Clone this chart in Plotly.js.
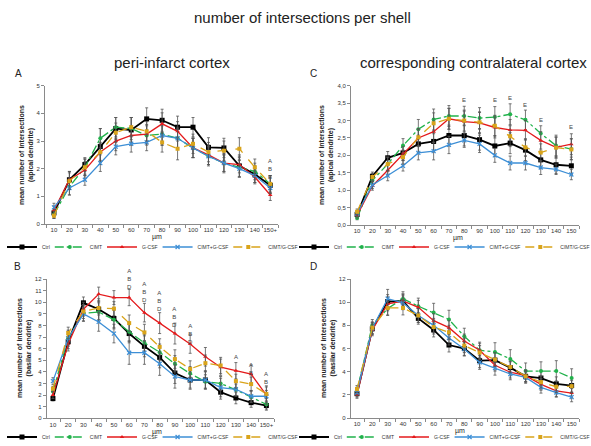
<!DOCTYPE html>
<html><head><meta charset="utf-8">
<script src="https://cdn.plot.ly/plotly-3.0.1.min.js"></script>
<style>html,body{margin:0;padding:0;background:#fff}#c{width:591px;height:446px}</style>
</head><body><div id="c"></div>
<script>
const seriesNames = ['Ctrl','CIMT','G-CSF','CIMT+G-CSF','CIMT/G-CSF'];
const catsPlus = ['10','20','30','40','50','60','70','80','90','100','110','120','130','140','150+'];
const cats = ['10','20','30','40','50','60','70','80','90','100','110','120','130','140','150'];

// Panel A: peri-infarct, apical
const A_ctrl = [0.4,1.6,2.15,2.8,3.45,3.4,3.8,3.75,3.5,3.5,2.77,2.75,2.1,1.8,1.4];
const A_cimt = [0.35,1.35,2.05,3.1,3.5,3.45,3.2,3.25,3.1,2.75,2.45,2.2,2.05,1.9,1.45];
const A_gcsf = [0.5,1.6,1.95,2.6,3.0,3.2,3.25,3.62,3.35,2.75,2.5,2.2,2.15,1.7,1.05];
const A_comb = [0.6,1.3,1.6,2.2,2.8,2.9,2.95,3.2,3.1,2.75,2.45,2.2,2.0,1.75,1.3];
const A_seq  = [0.3,1.55,2.05,2.6,3.3,3.5,3.35,2.95,2.72,2.9,2.6,2.65,2.72,2.05,1.45];
const A_ctrl_e = [0.15,0.3,0.25,0.65,0.4,0.45,0.4,0.4,0.4,0.35,0.35,0.35,0.4,0.3,0.3];
const A_cimt_e = [0.15,0.3,0.3,0.35,0.35,0.4,0.35,0.4,0.4,0.35,0.35,0.35,0.35,0.3,0.3];
const A_gcsf_e = [0.15,0.3,0.3,0.35,0.35,0.35,0.35,0.4,0.35,0.35,0.35,0.3,0.3,0.25,0.2];
const A_comb_e = [0.15,0.25,0.2,0.3,0.3,0.3,0.3,0.35,0.35,0.35,0.3,0.3,0.3,0.25,0.2];
const A_seq_e  = [0.1,0.3,0.3,0.3,0.35,0.35,0.35,0.35,0.4,0.35,0.35,0.35,0.4,0.3,0.3];

// Panel C: contralateral, apical
const C_ctrl = [0.3,1.4,1.93,2.07,2.33,2.4,2.57,2.57,2.45,2.27,2.35,2.15,1.87,1.73,1.7];
const C_cimt = [0.2,1.28,1.75,2.28,2.75,3.03,3.13,3.13,3.07,3.1,3.18,3.02,2.63,2.28,2.18];
const C_gcsf = [0.28,1.12,1.57,2.05,2.5,2.68,3.05,2.97,2.93,2.8,2.73,2.72,2.43,2.23,2.32];
const C_comb = [0.33,1.15,1.42,1.7,2.07,2.12,2.3,2.43,2.33,2.0,1.78,1.78,1.65,1.6,1.45];
const C_seq  = [0.38,1.38,1.75,1.95,2.52,2.92,3.05,3.0,2.95,2.85,2.55,2.23,2.08,2.22,2.17];
const C_ctrl_e = [0.08,0.12,0.18,0.2,0.25,0.3,0.3,0.3,0.3,0.3,0.3,0.3,0.25,0.25,0.25];
const C_cimt_e = [0.05,0.12,0.2,0.2,0.28,0.3,0.3,0.28,0.3,0.3,0.3,0.28,0.22,0.3,0.3];
const C_gcsf_e = [0.08,0.12,0.15,0.2,0.25,0.3,0.3,0.3,0.3,0.3,0.3,0.28,0.25,0.3,0.3];
const C_comb_e = [0.08,0.1,0.15,0.15,0.2,0.25,0.25,0.2,0.25,0.2,0.2,0.2,0.2,0.15,0.15];
const C_seq_e  = [0.08,0.1,0.2,0.2,0.25,0.3,0.3,0.3,0.3,0.3,0.3,0.25,0.25,0.3,0.3];

// Panel B: peri-infarct, basilar
const B_ctrl = [1.7,6.6,9.95,9.4,8.6,7.3,6.2,5.25,3.9,3.3,3.3,2.25,1.75,1.35,1.1];
const B_cimt = [2.3,6.9,9.05,9.15,8.5,7.45,6.5,5.7,4.7,3.85,3.15,3.0,2.45,1.85,1.2];
const B_gcsf = [2.0,6.4,9.4,10.7,10.4,10.4,9.1,8.2,7.3,6.4,5.3,4.4,4.1,3.8,2.0];
const B_comb = [3.2,6.9,9.0,8.3,7.3,5.65,5.65,4.7,3.6,3.3,3.3,2.65,2.5,1.9,1.9];
const B_seq  = [2.55,7.35,9.2,9.5,9.45,8.2,7.4,6.15,5.1,4.25,4.75,4.55,3.2,2.95,2.1];
const B_ctrl_e = [0.2,0.6,0.5,0.9,0.8,0.8,0.9,0.9,0.9,0.7,0.7,0.6,0.5,0.4,0.3];
const B_cimt_e = [0.3,0.7,0.7,0.8,0.8,0.8,0.7,0.7,0.7,0.6,0.6,0.6,0.5,0.5,0.5];
const B_gcsf_e = [0.3,0.6,0.6,0.6,0.6,0.7,0.8,0.9,0.9,0.8,0.8,0.7,0.7,0.8,0.8];
const B_comb_e = [0.3,0.6,0.6,0.8,0.8,1.0,1.0,1.0,1.0,0.8,0.8,0.8,0.6,0.5,0.5];
const B_seq_e  = [0.2,0.5,0.6,0.6,0.6,0.7,0.7,0.7,0.8,0.7,0.7,0.7,0.6,0.6,0.6];

// Panel D: contralateral, basilar
const D_ctrl = [2.1,7.7,10.05,10.1,8.6,7.6,6.3,6.0,4.95,5.0,4.35,3.6,3.45,2.95,2.8];
const D_cimt = [2.35,8.0,9.45,10.3,9.65,9.1,8.5,7.05,5.85,5.7,5.1,4.05,4.05,4.05,3.45];
const D_gcsf = [2.0,7.6,9.85,10.1,9.55,8.4,7.8,6.65,5.85,4.55,3.95,3.65,2.9,2.35,2.15];
const D_comb = [2.2,7.75,10.3,9.95,8.85,8.0,6.9,5.95,4.8,4.3,3.8,3.5,2.65,2.2,1.8];
const D_seq  = [2.5,7.8,9.5,9.5,8.85,7.85,7.4,6.25,5.65,5.05,4.4,3.6,3.1,2.7,2.75];
const D_ctrl_e = [0.3,0.5,0.6,0.6,0.5,0.6,0.6,0.6,0.6,0.6,0.5,0.5,0.6,0.6,0.6];
const D_cimt_e = [0.3,0.5,0.6,0.6,0.7,0.8,0.8,0.7,0.7,0.8,0.8,0.7,0.8,0.9,0.8];
const D_gcsf_e = [0.3,0.5,0.6,0.6,0.6,0.6,0.6,0.6,0.6,0.5,0.5,0.5,0.5,0.5,0.4];
const D_comb_e = [0.3,0.5,0.8,0.6,0.6,0.6,0.6,0.6,0.6,0.6,0.5,0.5,0.5,0.4,0.4];
const D_seq_e  = [0.3,0.5,0.6,0.6,0.6,0.6,0.6,0.6,0.6,0.6,0.5,0.5,0.5,0.5,0.5];

// significance letters (y = middle of the stacked label)
const sigA_x = ['150+']; const sigA_t = ['A<br>B<br>E']; const sigA_y = [1.98];
const sigC_x = ['80','100','110','120','130','150']; const sigC_t = ['E','E','E','E','E','E'];
const sigC_y = [3.6,3.6,3.64,3.45,3.01,2.82];
const sigB_x = ['60','70','80','90','100','130','140','150+'];
const sigB_t = ['A<br>B<br>D','A<br>B<br>D','A<br>B<br>D','A<br>B<br>D','A<br>B<br>D','A','A<br>B','A<br>B'];
const sigB_y = [11.99,10.9,10.1,8.7,7.26,5.25,4.28,3.5];

const colors = ['#000000','#21b24b','#e41a1c','#3d8fd6','#d9a41b'];
const dashes = ['solid','dashdot','solid','solid','dash'];
const symbols = ['square','circle','triangle-up','x-thin-open','square'];
const widths = [1.8,1.3,1.3,1.3,1.3];

const font = 'Liberation Sans, Arial, sans-serif';
const traces = [];
function addPanel(xs, ys, errs, xa, ya, leg) {
  ys.forEach((y, i) => {
    traces.push({
      type: 'scatter', mode: 'lines+markers', x: xs, y: y, name: seriesNames[i],
      xaxis: xa, yaxis: ya, legend: leg,
      line: {color: colors[i], width: widths[i], dash: dashes[i]},
      marker: {color: colors[i], symbol: symbols[i], size: i===0?5:4, line:{color:colors[i], width: i===3?1.2:0}},
      error_y: {type: 'data', array: errs[i], visible: true, color: '#555', thickness: 0.8, width: 1.5},
      cliponaxis: false
    });
  });
}
addPanel(catsPlus, [A_ctrl,A_cimt,A_gcsf,A_comb,A_seq], [A_ctrl_e,A_cimt_e,A_gcsf_e,A_comb_e,A_seq_e], 'x', 'y', 'legend');
addPanel(cats, [C_ctrl,C_cimt,C_gcsf,C_comb,C_seq], [C_ctrl_e,C_cimt_e,C_gcsf_e,C_comb_e,C_seq_e], 'x2', 'y2', 'legend2');
addPanel(catsPlus, [B_ctrl,B_cimt,B_gcsf,B_comb,B_seq], [B_ctrl_e,B_cimt_e,B_gcsf_e,B_comb_e,B_seq_e], 'x3', 'y3', 'legend3');
addPanel(cats, [D_ctrl,D_cimt,D_gcsf,D_comb,D_seq], [D_ctrl_e,D_cimt_e,D_gcsf_e,D_comb_e,D_seq_e], 'x4', 'y4', 'legend4');

const H = 446, W = 591;
const px = v => v / W, py = v => 1 - v / H;

function xax(dom, range, anchor) {
  return {domain: dom, range: range, anchor: anchor, type: 'category', showgrid: false, zeroline: false,
    showline: true, linecolor: '#8a8a8a', linewidth: 1, ticks: 'outside', tickson: 'boundaries',
    ticklen: 3, tickcolor: '#8a8a8a', tickangle: 0, automargin: false, tickfont: {size: 6, color: '#333', family: font},
    fixedrange: true};
}
function yax(dom, range, dtick, fmt, anchor) {
  return {domain: dom, range: range, anchor: anchor, dtick: dtick, tick0: 0, tickformat: fmt, showgrid: false, zeroline: false,
    showline: true, linecolor: '#8a8a8a', linewidth: 1, ticks: 'outside', ticklen: 3, tickcolor: '#8a8a8a', automargin: false,
    tickfont: {size: 6, color: '#333', family: font}, fixedrange: true};
}

const annotations = [];
// category names that look numeric must be passed as category indices
function sig(xs, ts, ys, catList, xr, yr) {
  xs.forEach((x, i) => annotations.push({x: catList.indexOf(x), y: ys[i], xref: xr, yref: yr, text: ts[i], showarrow: false,
    font: {size: 6, color: '#444', family: font}, yanchor: 'middle'}));
}
sig(sigA_x, sigA_t, sigA_y, catsPlus, 'x', 'y');
sig(sigC_x, sigC_t, sigC_y, cats, 'x2', 'y2');
sig(sigB_x, sigB_t, sigB_y, catsPlus, 'x3', 'y3');

function txt(t, x, y, size, angle, bold) {
  annotations.push({text: t, x: px(x), y: py(y), xref: 'paper', yref: 'paper', showarrow: false, textangle: angle || 0,
    xanchor: 'center', yanchor: 'middle', font: {size: size, color: '#222', family: font, weight: bold ? 'bold' : 'normal'}});
}
txt('number of intersections per shell', 302, 17, 15);
txt('peri-infarct cortex', 172, 63, 15);
txt('corresponding contralateral cortex', 473, 63, 15);
txt('A', 18, 73, 10); txt('C', 313, 73, 10);
txt('B', 17, 266, 10); txt('D', 313, 266, 10);
const ytA = 'mean number of intersections<br>(apical dendrite)';
const ytB = 'mean number of intersections<br>(basilar dendrite)';
txt(ytA, 26, 155, 7, -90, true);
txt(ytA, 326, 155, 7, -90, true);
txt(ytB, 24, 348, 7, -90, true);
txt(ytB, 328, 348, 7, -90, true);
txt('µm', 157, 237, 7); txt('µm', 458, 238, 7);
txt('µm', 157, 432, 7); txt('µm', 460, 431, 7);

function leg(x, y) {
  return {orientation: 'h', xref: 'container', yref: 'container', x: px(x), y: py(y), xanchor: 'center', yanchor: 'middle', bgcolor: 'rgba(0,0,0,0)',
    font: {size: 5, color: '#333', family: font}, itemwidth: 30, indentation: -5, tracegroupgap: 0, itemclick: false, itemdoubleclick: false};
}

const layout = {
  width: W, height: H, margin: {l: 0, r: 0, t: 0, b: 0, autoexpand: false}, paper_bgcolor: '#fff', plot_bgcolor: '#fff',
  separators: ',.', showlegend: true,
  font: {family: font},
  xaxis: xax([px(45), px(278)], [-0.58, 14.5], 'y'),
  yaxis: yax([py(224), py(85.7)], [0, 5], 1, 'd', 'x'),
  xaxis2: xax([px(351), px(579)], [-0.4, 14.5], 'y2'),
  yaxis2: yax([py(225), py(85.7)], [0, 4], 0.5, '.1f', 'x2'),
  xaxis3: xax([px(46.7), px(274)], [-0.41, 14.5], 'y3'),
  yaxis3: yax([py(418.3), py(279)], [0, 12], 1, 'd', 'x3'),
  xaxis4: xax([px(350.7), px(579.3)], [-0.41, 14.5], 'y4'),
  yaxis4: yax([py(418), py(279)], [0, 12], 2, 'd', 'x4'),
  legend: leg(155, 247), legend2: leg(447, 247), legend3: leg(155, 437), legend4: leg(447, 437),
  annotations: annotations
};
Plotly.newPlot('c', traces, layout, {displayModeBar: false, staticPlot: true});
</script></body></html>
